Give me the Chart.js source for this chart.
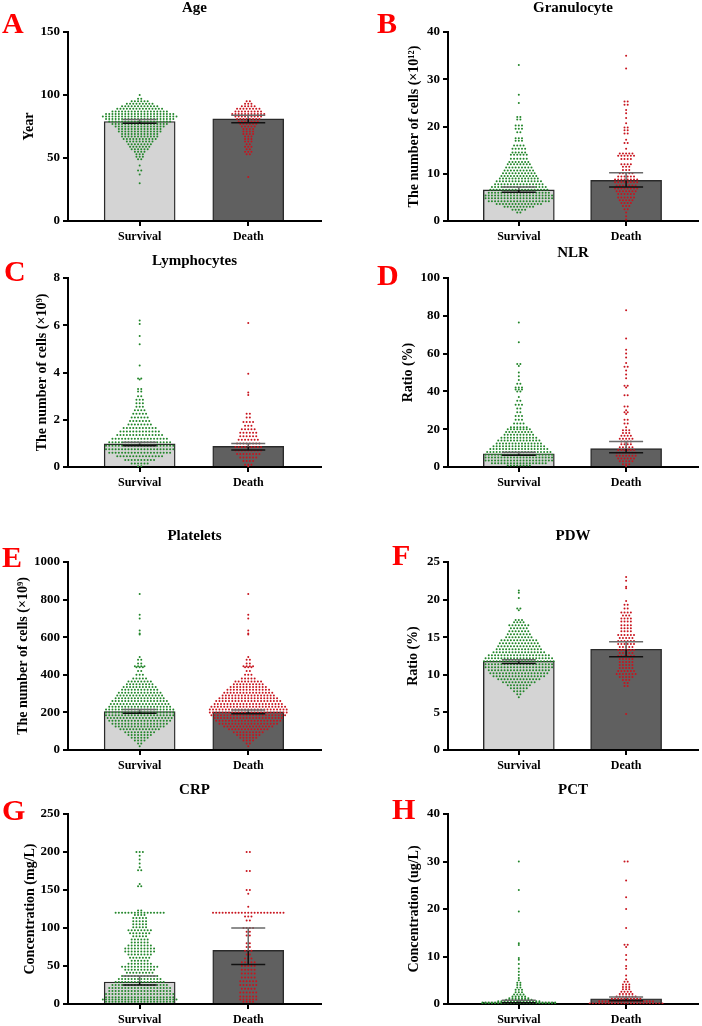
<!DOCTYPE html>
<html>
<head>
<meta charset="utf-8">
<script src="https://cdn.jsdelivr.net/npm/chart.js@4.4.1/dist/chart.umd.min.js"></script>
<style>
  body { margin: 0; background: #fff; }
  #page { position: relative; width: 702px; height: 1026px; overflow: hidden; background: #fff; }
  canvas { position: absolute; }
</style>
</head>
<body>
<div id="page"></div>
<script>
const groups = ["Survival", "Death"];

// each swarm row is [value, number of dots at that value]

// A - Age
const ageTicks = [0, 50, 100, 150];
const ageMean = [79, 81];
const ageLow = [77.5, 78];
const ageHigh = [80.5, 84];
const ageSurvival = [[100,1],[97,2],[95,6],[93,9],[91,12],[89,15],[87,18],[85,22],[83,24],[81,22],[79,20],[77,18],[75,16],[73,14],[71,14],[69,12],[67,12],[65,11],[63,9],[61,8],[59,7],[57,6],[55,4],[53,3],[51,3],[49,2],[44,1],[40,2],[37,1],[30,1]];
const ageDeath = [[95,2],[93,3],[91,5],[89,8],[87,9],[85,11],[83,9],[81,8],[79,7],[77,6],[75,5],[73,4],[71,4],[69,4],[67,3],[65,3],[63,3],[61,2],[59,3],[57,2],[55,3],[53,2],[35,1]];

// B - Granulocyte
const granTicks = [0, 10, 20, 30, 40];
const granMean = [6.6, 8.6];
const granLow = [6.1, 7.2];
const granHigh = [7.2, 10.2];
const granSurvival = [[33,1],[26.7,1],[25,1],[22,2],[21.5,2],[20.2,3],[19.5,3],[18.8,2],[17.5,3],[17,3],[16,4],[15.3,5],[14.5,5],[14,6],[13.2,6],[12.5,7],[12,8],[11.3,9],[10.7,10],[10.1,11],[9.5,12],[9,13],[8.4,15],[7.8,16],[7.2,18],[6.6,19],[6,20],[5.4,22],[4.8,22],[4.2,20],[3.6,15],[3,10],[2.4,5],[1.8,2]];
const granDeath = [[35,1],[32.3,1],[25.3,2],[24.6,2],[23.5,1],[22.8,1],[21.8,1],[20.7,1],[19.8,2],[19.2,2],[18.5,2],[17.2,1],[16.5,2],[15.3,1],[14.3,5],[13.8,6],[13.1,4],[12,4],[11.5,3],[10.8,3],[10.1,5],[9.4,6],[8.8,8],[8.2,8],[7.5,7],[6.9,8],[6.3,7],[5.7,6],[5,6],[4.4,5],[3.8,4],[3.2,3],[2.5,2],[1.8,1],[1,1],[0.3,1]];

// C - Lymphocytes
const lymTicks = [0, 2, 4, 6, 8];
const lymMean = [0.98, 0.87];
const lymLow = [0.9, 0.72];
const lymHigh = [1.05, 1.0];
const lymSurvival = [[6.2,1],[6.05,1],[5.55,1],[5.2,1],[4.3,1],[3.75,2],[3.7,1],[3.3,2],[3.2,2],[3.0,2],[2.85,3],[2.7,3],[2.55,3],[2.4,4],[2.25,5],[2.1,6],[1.95,7],[1.8,8],[1.65,11],[1.5,13],[1.35,15],[1.2,18],[1.05,20],[0.9,22],[0.75,22],[0.6,20],[0.45,15],[0.3,10],[0.15,6],[0.03,2]];
const lymDeath = [[6.1,1],[3.95,1],[3.15,1],[3.05,1],[2.25,2],[2.1,2],[1.9,4],[1.75,3],[1.6,5],[1.45,6],[1.3,6],[1.15,7],[1.0,8],[0.85,9],[0.7,9],[0.55,8],[0.4,6],[0.25,4],[0.1,3],[0.02,1]];

// D - NLR
const nlrTicks = [0, 20, 40, 60, 80, 100];
const nlrMean = [7, 9.7];
const nlrLow = [6.2, 7.5];
const nlrHigh = [7.8, 13.5];
const nlrSurvival = [[76.5,1],[66,1],[54.5,2],[53.5,1],[50,1],[48,1],[46,1],[44,2],[42,3],[41,3],[40,2],[37,1],[35,2],[33,3],[31,2],[29,2],[27,3],[25,3],[23,4],[21,6],[20,8],[18.5,9],[17,10],[15.5,12],[14,14],[12.5,15],[11,17],[9.5,19],[8,21],[6.5,22],[5,22],[3.5,22],[2,18],[0.8,8]];
const nlrDeath = [[83,1],[68,1],[62,1],[60,1],[58,1],[55,1],[53,2],[51,1],[49,1],[47,1],[43,2],[42,1],[38,2],[32,2],[30,1],[29,2],[28,1],[25,2],[23,2],[21,1],[19.5,3],[18,3],[16.5,4],[15,5],[13.5,4],[12,4],[10.5,5],[9,6],[7.5,7],[6,7],[4.5,6],[3,5],[1.5,3],[0.5,1]];

// E - Platelets
const pltTicks = [0, 200, 400, 600, 800, 1000];
const pltMean = [205, 203];
const pltLow = [195, 193];
const pltHigh = [215, 213];
const pltSurvival = [[830,1],[720,1],[700,1],[635,1],[620,1],[615,1],[495,1],[480,2],[460,2],[445,4],[440,3],[420,2],[400,3],[380,5],[365,8],[350,9],[335,11],[320,12],[305,14],[290,15],[275,16],[260,18],[245,19],[230,20],[215,22],[200,22],[185,22],[170,21],[155,20],[140,18],[125,16],[110,13],[95,10],[80,8],[65,6],[50,4],[35,2],[20,1]];
const pltDeath = [[830,1],[720,1],[700,1],[635,1],[620,1],[615,1],[495,1],[480,2],[460,2],[445,4],[440,3],[420,2],[400,3],[380,5],[365,9],[350,10],[335,12],[320,14],[305,16],[290,17],[275,19],[260,21],[245,22],[230,24],[215,25],[200,25],[185,24],[170,22],[155,21],[140,19],[125,16],[110,13],[95,10],[80,8],[65,6],[50,4],[35,2],[20,1]];

// F - PDW
const pdwTicks = [0, 5, 10, 15, 20, 25];
const pdwMean = [11.8, 13.4];
const pdwLow = [11.5, 12.4];
const pdwHigh = [12.0, 14.4];
const pdwSurvival = [[21.2,1],[20.9,1],[20.2,1],[18.8,2],[18.6,1],[17.3,3],[17,4],[16.6,7],[16.2,6],[15.8,7],[15.4,8],[15,9],[14.6,12],[14.2,13],[13.8,14],[13.4,15],[13,17],[12.6,20],[12.2,22],[11.8,23],[11.4,22],[11,22],[10.6,20],[10.2,19],[9.8,17],[9.4,14],[9,11],[8.6,8],[8.2,6],[7.8,4],[7.4,2],[7,1]];
const pdwDeath = [[23,1],[22.5,1],[21.7,1],[21.5,1],[19.8,1],[19.3,2],[18.8,2],[18.3,4],[17.9,3],[17.5,4],[17.1,4],[16.6,4],[16.2,4],[15.8,4],[15.3,6],[14.9,5],[14.5,6],[14.1,6],[13.7,5],[13.3,6],[12.9,5],[12.5,6],[12.1,5],[11.7,5],[11.3,5],[10.9,5],[10.5,6],[10.1,7],[9.7,5],[9.3,3],[8.9,2],[8.5,2],[4.8,1]];

// G - CRP
const crpTicks = [0, 50, 100, 150, 200, 250];
const crpMean = [29, 70.5];
const crpLow = [25, 52];
const crpHigh = [37, 100];
const crpSurvival = [[200,3],[195,1],[190,1],[185,1],[180,1],[176,2],[158,1],[155,2],[123,2],[120,16],[117,4],[113,5],[109,5],[105,5],[101,5],[97,8],[93,7],[89,5],[85,6],[81,6],[77,8],[73,10],[69,10],[65,8],[61,7],[57,6],[53,8],[49,12],[45,10],[41,9],[37,12],[33,14],[29,16],[25,18],[21,20],[17,20],[13,22],[9,22],[6,24],[3,22]];
const crpDeath = [[200,2],[175,2],[150,2],[145,1],[128,1],[120,23],[115,3],[110,2],[100,4],[95,2],[90,2],[80,2],[75,2],[70,3],[65,2],[60,3],[55,5],[50,5],[45,5],[40,5],[35,5],[30,6],[25,6],[20,5],[15,6],[10,6],[6,6],[3,4]];

// H - PCT
const pctTicks = [0, 10, 20, 30, 40];
const pctMean = [0.4, 1.1];
const pctLow = [0.25, 0.7];
const pctHigh = [0.8, 1.5];
const pctSurvival = [[30,1],[24,1],[19.5,1],[12.8,1],[12.4,1],[9.7,1],[9.3,1],[8.4,1],[7.5,1],[6.8,1],[6.1,1],[5.5,1],[5,1],[4.5,2],[4,2],[3.5,2],[3,3],[2.5,3],[2,4],[1.6,5],[1.2,7],[0.9,9],[0.6,14],[0.3,24],[0.05,24]];
const pctDeath = [[30,2],[26,1],[22.5,1],[20,1],[16,1],[12.5,2],[12,1],[10.3,1],[9.3,1],[8,1],[7.4,1],[6,1],[5.2,1],[4.7,2],[4.1,3],[3.6,3],[3.1,3],[2.6,4],[2.1,5],[1.6,7],[1.1,10],[0.6,18],[0.1,24]];

const FONT = "'Liberation Serif', 'Times New Roman', serif";
Chart.defaults.font.family = FONT;
Chart.defaults.font.weight = "bold";
Chart.defaults.color = "#000";

const panels = [
  { letter: "A", title: "Age", yTitle: "Year", ticks: ageTicks, mean: ageMean, low: ageLow, high: ageHigh, surv: ageSurvival, dead: ageDeath,
    left: 0, top: 0, axisX: 68, plotTop: 32, zeroY: 221, right: 321, titleY: 8, letterX: 2, letterY: 25, yTitleX: 29 },
  { letter: "B", title: "Granulocyte", yTitle: "The number of cells (×10¹²)", ticks: granTicks, mean: granMean, low: granLow, high: granHigh, surv: granSurvival, dead: granDeath,
    left: 351, top: 0, axisX: 448, plotTop: 32, zeroY: 221, right: 701, titleY: 8, letterX: 377, letterY: 25, yTitleX: 414 },
  { letter: "C", title: "Lymphocytes", yTitle: "The number of cells (×10⁹)", ticks: lymTicks, mean: lymMean, low: lymLow, high: lymHigh, surv: lymSurvival, dead: lymDeath,
    left: 0, top: 240, axisX: 68, plotTop: 278, zeroY: 467, right: 321, titleY: 261, letterX: 4, letterY: 273, yTitleX: 42 },
  { letter: "D", title: "NLR", yTitle: "Ratio (%)", ticks: nlrTicks, mean: nlrMean, low: nlrLow, high: nlrHigh, surv: nlrSurvival, dead: nlrDeath,
    left: 351, top: 240, axisX: 448, plotTop: 278, zeroY: 467, right: 701, titleY: 253, letterX: 377, letterY: 277, yTitleX: 408 },
  { letter: "E", title: "Platelets", yTitle: "The number of cells (×10⁹)", ticks: pltTicks, mean: pltMean, low: pltLow, high: pltHigh, surv: pltSurvival, dead: pltDeath,
    left: 0, top: 500, axisX: 68, plotTop: 562, zeroY: 750, right: 321, titleY: 536, letterX: 2, letterY: 559, yTitleX: 23 },
  { letter: "F", title: "PDW", yTitle: "Ratio (%)", ticks: pdwTicks, mean: pdwMean, low: pdwLow, high: pdwHigh, surv: pdwSurvival, dead: pdwDeath,
    left: 351, top: 500, axisX: 448, plotTop: 562, zeroY: 750, right: 701, titleY: 536, letterX: 392, letterY: 557, yTitleX: 413 },
  { letter: "G", title: "CRP", yTitle: "Concentration (mg/L)", ticks: crpTicks, mean: crpMean, low: crpLow, high: crpHigh, surv: crpSurvival, dead: crpDeath,
    left: 0, top: 770, axisX: 68, plotTop: 814, zeroY: 1004, right: 321, titleY: 790, letterX: 2, letterY: 812, yTitleX: 30 },
  { letter: "H", title: "PCT", yTitle: "Concentration (ug/L)", ticks: pctTicks, mean: pctMean, low: pctLow, high: pctHigh, surv: pctSurvival, dead: pctDeath,
    left: 351, top: 770, axisX: 448, plotTop: 814, zeroY: 1004, right: 701, titleY: 790, letterX: 392, letterY: 811, yTitleX: 414 },
];

const X_MIN = 0.34, X_MAX = 2.67;
const DOT_STEP = 0.0295;

// spread the dots of each row side by side around the group centre
function swarm(rows, centre) {
  const pts = [];
  rows.forEach(([v, n]) => {
    for (let i = 0; i < n; i++) pts.push({ x: centre + (i - (n - 1) / 2) * DOT_STEP, y: v });
  });
  return pts;
}

const errorBars = {
  id: "errorBars",
  afterDatasetsDraw(chart, args, o) {
    const ctx = chart.ctx;
    const xs = chart.scales.x, ys = chart.scales.y;
    ctx.save();
    ctx.lineWidth = 1.5;
    o.mean.forEach((m, i) => {
      const cx = xs.getPixelForValue(i + 1);
      const yTop = ys.getPixelForValue(m);
      const yLo = ys.getPixelForValue(o.low[i]);
      const yHi = ys.getPixelForValue(o.high[i]);
      ctx.strokeStyle = "#111";
      ctx.beginPath();
      ctx.moveTo(cx - 17, yLo); ctx.lineTo(cx + 17, yLo);
      ctx.moveTo(cx, yLo); ctx.lineTo(cx, yTop);
      ctx.stroke();
      ctx.strokeStyle = "#6a6a6a";
      ctx.beginPath();
      ctx.moveTo(cx, yTop); ctx.lineTo(cx, yHi);
      ctx.moveTo(cx - 17, yHi); ctx.lineTo(cx + 17, yHi);
      ctx.stroke();
    });
    ctx.restore();
  }
};

const panelText = {
  id: "panelText",
  afterDraw(chart, args, o) {
    const ctx = chart.ctx, a = chart.chartArea;
    ctx.save();
    ctx.textBaseline = "middle";
    ctx.fillStyle = "#000";
    ctx.font = "bold 15px " + FONT;
    ctx.textAlign = "center";
    ctx.fillText(o.title, (a.left + a.right) / 2, o.titleY);
    ctx.fillStyle = "#ff0000";
    ctx.font = "bold 30px " + FONT;
    ctx.textAlign = "left";
    ctx.fillText(o.letter, o.letterX, o.letterY);
    ctx.restore();
  }
};

const page = document.getElementById("page");

panels.forEach((p) => {
  const cv = document.createElement("canvas");
  const w = 351, h = p.zeroY + 22 - p.top;
  cv.width = w; cv.height = h;
  cv.style.left = p.left + "px";
  cv.style.top = p.top + "px";
  page.appendChild(cv);

  const lh = 14 * 1.2;
  const padLeft = p.yTitleX - lh / 2 - p.left;
  const yWidth = p.axisX - p.left - padLeft;

  new Chart(cv, {
    type: "bar",
    data: {
      datasets: [
        {
          type: "scatter", order: 1, data: swarm(p.surv, 1),
          backgroundColor: "#22862a", borderWidth: 0, pointRadius: 1.0, pointStyle: "circle"
        },
        {
          type: "scatter", order: 1, data: swarm(p.dead, 2),
          backgroundColor: "#c8141e", borderWidth: 0, pointRadius: 1.0, pointStyle: "circle"
        },
        {
          type: "bar", order: 2,
          data: [{ x: 1, y: p.mean[0] }, { x: 2, y: p.mean[1] }],
          backgroundColor: ["#d4d4d4", "#606060"],
          borderColor: "#2a2a2a", borderWidth: 1.4, borderSkipped: "bottom",
          barThickness: 71
        }
      ]
    },
    options: {
      responsive: false,
      animation: false,
      events: [],
      layout: { padding: { left: padLeft, top: p.plotTop - p.top, right: p.left + w - p.right, bottom: 0 } },
      plugins: {
        legend: { display: false },
        tooltip: { enabled: false },
        errorBars: { mean: p.mean, low: p.low, high: p.high },
        panelText: { title: p.title, letter: p.letter, titleY: p.titleY - p.top, letterX: p.letterX - p.left, letterY: p.letterY - p.top }
      },
      scales: {
        x: {
          type: "linear", min: X_MIN, max: X_MAX, offset: false,
          afterBuildTicks: (s) => { s.ticks = [{ value: 1 }, { value: 2 }]; },
          afterFit: (s) => { s.height = 22; },
          ticks: { callback: (v) => groups[v - 1], autoSkip: false, maxRotation: 0, padding: 4, font: { size: 12, weight: "bold" }, color: "#000" },
          grid: { drawOnChartArea: false, drawTicks: true, tickLength: 5, lineWidth: 2, color: "#000", offset: false },
          border: { display: true, width: 2, color: "#000" }
        },
        y: {
          min: p.ticks[0], max: p.ticks[p.ticks.length - 1],
          afterBuildTicks: (s) => { s.ticks = p.ticks.map((v) => ({ value: v })); },
          afterFit: (s) => { s.width = yWidth; },
          ticks: { callback: (v) => String(v), padding: 3, font: { size: 13, weight: "bold" }, color: "#000" },
          grid: { drawOnChartArea: false, drawTicks: true, tickLength: 5, lineWidth: 2, color: "#000" },
          border: { display: true, width: 2, color: "#000" },
          title: { display: true, text: p.yTitle, padding: 0, font: { size: 14, weight: "bold" }, color: "#000" }
        }
      }
    },
    plugins: [errorBars, panelText]
  });
});
</script>
</body>
</html>
